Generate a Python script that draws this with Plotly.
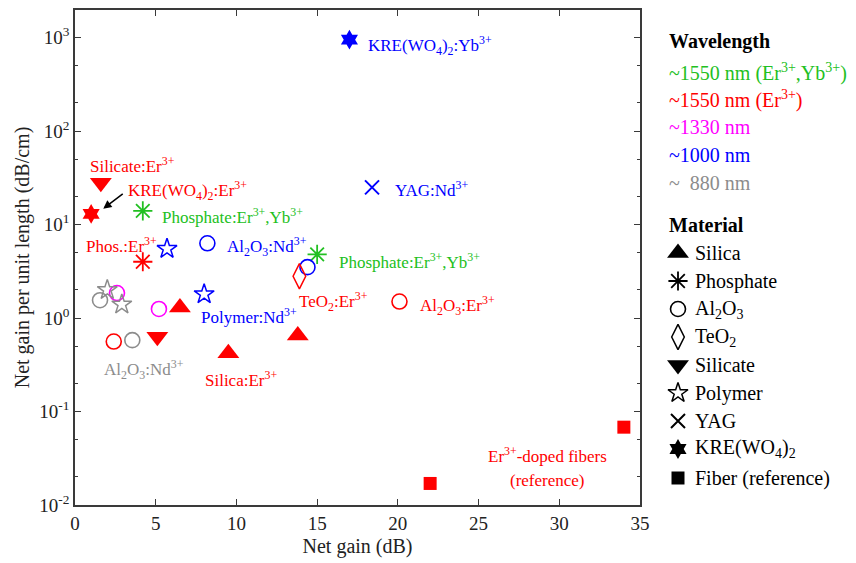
import plotly.graph_objects as go

# ---- data: net gain (dB) vs. net gain per unit length (dB/cm) ----
silica_er_gain = [6.5, 9.5, 13.8]
silica_er_gpl = [1.3, 0.42, 0.65]

phosphate_eryb_gain = [4.2, 15.0]
phosphate_eryb_gpl = [14.0, 4.8]
phosphate_er_gain = [4.2]
phosphate_er_gpl = [4.0]

al2o3_er_gain = [2.4, 20.1]
al2o3_er_gpl = [0.56, 1.5]
al2o3_1330_gain = [2.6, 5.2]
al2o3_1330_gpl = [1.85, 1.25]
al2o3_1000_gain = [8.2, 14.4]
al2o3_1000_gpl = [6.3, 3.5]
al2o3_880_gain = [1.55, 3.55]
al2o3_880_gpl = [1.55, 0.58]

teo2_er_gain = [13.9]
teo2_er_gpl = [2.8]

silicate_er_gain = [1.6, 5.1]
silicate_er_gpl = [28.0, 0.63]

polymer_1000_gain = [5.7, 8.0]
polymer_1000_gpl = [5.5, 1.8]
polymer_880_gain = [2.0, 2.9]
polymer_880_gpl = [2.0, 1.4]

yag_1000_gain = [18.4]
yag_1000_gpl = [25.0]

kre_er_gain = [1.0]
kre_er_gpl = [13.0]
kre_yb_gain = [17.0]
kre_yb_gpl = [950.0]

fiber_er_gain = [22.0, 34.0]
fiber_er_gpl = [0.017, 0.068]

x_ticks = [0, 5, 10, 15, 20, 25, 30, 35]
y_tick_exps = [-2, -1, 0, 1, 2, 3]

wavelength_labels = ["~1550 nm (Er<sup>3+</sup>,Yb<sup>3+</sup>)", "~1550 nm (Er<sup>3+</sup>)",
                     "~1330 nm", "~1000 nm", "~  880 nm"]
material_labels = ["Silica", "Phosphate", "Al<sub>2</sub>O<sub>3</sub>", "TeO<sub>2</sub>",
                   "Silicate", "Polymer", "YAG", "KRE(WO<sub>4</sub>)<sub>2</sub>", "Fiber (reference)"]

# ---- styling ----
GREEN = "#22C022"
RED = "#FF0000"
MAGENTA = "#FF00FF"
BLUE = "#0000FF"
GRAY = "#8C8C8C"
FONT = "Liberation Serif, Times New Roman, serif"
W, H = 856, 563
PL, PR, PT, PB = 75, 640, 10, 505  # plot box in pixels
X_RANGE = [0, 35]
Y_RANGE = [-2, 3.295]
PAPER_W = W - PL  # paper spans from the left margin to the right edge
LABEL_SIZE = 17
LEGEND_SIZE = 20

# marker styles: (symbol, size, filled, line width)
SILICA = ("triangle-up", 19, True, 0)
PHOSPHATE = ("asterisk-open", 16, False, 1.8)
AL2O3 = ("circle-open", 15, False, 1.6)
TEO2 = ("diamond-tall-open", 18, False, 1.5)
SILICATE = ("triangle-down", 19, True, 0)
POLYMER = ("star-open", 15, False, 1.5)
YAG = ("x-thin-open", 14, False, 2)
KRE = ("hexagram", 15, True, 0)
FIBER = ("square", 13, True, 0)

fig = go.Figure()


def marker_style(style, color):
    symbol, size, filled, lw = style
    if filled:
        return dict(symbol=symbol, size=size, color=color, line=dict(width=0))
    return dict(symbol=symbol, size=size, color=color, line=dict(color=color, width=lw))


def add(xs, ys, style, color):
    fig.add_trace(go.Scatter(x=xs, y=ys, mode="markers", marker=marker_style(style, color),
                             showlegend=False, hoverinfo="x+y"))


add(silica_er_gain, silica_er_gpl, SILICA, RED)
add(phosphate_eryb_gain, phosphate_eryb_gpl, PHOSPHATE, GREEN)
add(phosphate_er_gain, phosphate_er_gpl, PHOSPHATE, RED)
add(al2o3_er_gain, al2o3_er_gpl, AL2O3, RED)
add(al2o3_1330_gain, al2o3_1330_gpl, AL2O3, MAGENTA)
add(al2o3_1000_gain, al2o3_1000_gpl, AL2O3, BLUE)
add(al2o3_880_gain, al2o3_880_gpl, AL2O3, GRAY)
add(teo2_er_gain, teo2_er_gpl, TEO2, RED)
add(silicate_er_gain, silicate_er_gpl, SILICATE, RED)
add(polymer_1000_gain, polymer_1000_gpl, POLYMER, BLUE)
add(polymer_880_gain, polymer_880_gpl, POLYMER, GRAY)
add(yag_1000_gain, yag_1000_gpl, YAG, BLUE)
add(kre_er_gain, kre_er_gpl, KRE, RED)
add(kre_yb_gain, kre_yb_gpl, KRE, BLUE)
add(fiber_er_gain, fiber_er_gpl, FIBER, RED)

# ---- in-plot labels (anchored at data coordinates; y in log10 units) ----
labels = [
    ("KRE(WO<sub>4</sub>)<sub>2</sub>:Yb<sup>3+</sup>", 18.0, 2.91, "left", BLUE),
    ("YAG:Nd<sup>3+</sup>", 19.7, 1.38, "left", BLUE),
    ("Silicate:Er<sup>3+</sup>", 3.55, 1.64, "center", RED),
    ("KRE(WO<sub>4</sub>)<sub>2</sub>:Er<sup>3+</sup>", 3.15, 1.36, "left", RED),
    ("Phosphate:Er<sup>3+</sup>,Yb<sup>3+</sup>", 5.25, 1.09, "left", GREEN),
    ("Phos.:Er<sup>3+</sup>", 0.55, 0.78, "left", RED),
    ("Al<sub>2</sub>O<sub>3</sub>:Nd<sup>3+</sup>", 9.3, 0.76, "left", BLUE),
    ("Phosphate:Er<sup>3+</sup>,Yb<sup>3+</sup>", 16.2, 0.61, "left", GREEN),
    ("TeO<sub>2</sub>:Er<sup>3+</sup>", 13.75, 0.18, "left", RED),
    ("Al<sub>2</sub>O<sub>3</sub>:Er<sup>3+</sup>", 21.25, 0.13, "left", RED),
    ("Polymer:Nd<sup>3+</sup>", 7.7, 0.02, "left", BLUE),
    ("Al<sub>2</sub>O<sub>3</sub>:Nd<sup>3+</sup>", 1.65, -0.55, "left", GRAY),
    ("Silica:Er<sup>3+</sup>", 7.9, -0.65, "left", RED),
    ("Er<sup>3+</sup>-doped fibers", 29.25, -1.46, "center", RED),
    ("(reference)", 29.25, -1.74, "center", RED),
]
for text, x, y, anchor, color in labels:
    fig.add_annotation(x=x, y=y, xref="x", yref="y", text=text, showarrow=False,
                       xanchor=anchor, yanchor="middle",
                       font=dict(family=FONT, size=LABEL_SIZE, color=color))

# arrow pointing at the KRE(WO4)2:Er3+ point
fig.add_annotation(x=1.75, y=1.17, xref="x", yref="y", ax=21, ay=-16,
                   showarrow=True, arrowhead=2, arrowsize=1.1, arrowwidth=1.5,
                   arrowcolor="black", text="")


# ---- custom legend on the right ----
def px(x):
    return (x - PL) / PAPER_W


def py(y):
    return (PB - y) / (PB - PT)


LEG_X_TEXT = 667
fig.add_annotation(x=px(LEG_X_TEXT), y=py(42), xref="paper", yref="paper", text="<b>Wavelength</b>",
                   showarrow=False, xanchor="left", yanchor="middle",
                   font=dict(family=FONT, size=LEGEND_SIZE, color="black"))
wl_colors = [GREEN, RED, MAGENTA, BLUE, GRAY]
wl_rows = [72, 100, 127, 155, 183]
for text, c, yy in zip(wavelength_labels, wl_colors, wl_rows):
    fig.add_annotation(x=px(LEG_X_TEXT), y=py(yy), xref="paper", yref="paper", text=text,
                       showarrow=False, xanchor="left", yanchor="middle",
                       font=dict(family=FONT, size=LEGEND_SIZE, color=c))

fig.add_annotation(x=px(LEG_X_TEXT), y=py(225), xref="paper", yref="paper", text="<b>Material</b>",
                   showarrow=False, xanchor="left", yanchor="middle",
                   font=dict(family=FONT, size=LEGEND_SIZE, color="black"))
mat_rows = [253, 281, 309, 337, 365, 393, 421, 449, 478]
mat_styles = [SILICA, PHOSPHATE, AL2O3, TEO2, SILICATE, POLYMER, YAG, KRE, FIBER]
for style, yy, text in zip(mat_styles, mat_rows, material_labels):
    # legend glyphs live on a helper axis pair whose units are screen pixels
    fig.add_trace(go.Scatter(x=[678], y=[yy], xaxis="x2", yaxis="y2", mode="markers",
                             marker=marker_style(style, "black"), cliponaxis=False,
                             showlegend=False, hoverinfo="skip"))
    fig.add_annotation(x=px(693), y=py(yy), xref="paper", yref="paper", text=text,
                       showarrow=False, xanchor="left", yanchor="middle",
                       font=dict(family=FONT, size=LEGEND_SIZE, color="black"))

AX = "#3A3A3A"
LEG_LEFT = 650
fig.update_layout(
    width=W, height=H,
    margin=dict(l=PL, r=0, t=PT, b=H - PB, autoexpand=False),
    paper_bgcolor="white", plot_bgcolor="rgba(0,0,0,0)",
    font=dict(family=FONT, size=19, color="#222"),
    xaxis=dict(domain=[0, (PR - PL) / PAPER_W], range=X_RANGE, tickvals=x_ticks,
               ticks="inside", ticklen=6, tickwidth=1.2, tickcolor=AX,
               showline=True, linecolor=AX, linewidth=1.5, mirror="ticks",
               showgrid=False, zeroline=False,
               tickfont=dict(family=FONT, size=19, color="#222"),
               title=dict(text="Net gain (dB)", font=dict(family=FONT, size=20, color="#222"), standoff=6),
               automargin=False, anchor="y"),
    yaxis=dict(type="log", range=Y_RANGE,
               tickvals=[10 ** e for e in y_tick_exps],
               ticktext=["10<sup>%d</sup>" % e for e in y_tick_exps],
               ticks="inside", ticklen=6, tickwidth=1.2, tickcolor=AX,
               minor=dict(ticks="inside", ticklen=3, tickcolor=AX, showgrid=False),
               showline=True, linecolor=AX, linewidth=1.5, mirror="ticks",
               showgrid=False, zeroline=False,
               tickfont=dict(family=FONT, size=19, color="#222"),
               title=dict(text="Net gain per unit length (dB/cm)",
                          font=dict(family=FONT, size=20, color="#222"), standoff=4),
               automargin=False, anchor="x"),
    xaxis2=dict(domain=[(LEG_LEFT - PL) / PAPER_W, 1], range=[LEG_LEFT, W], visible=False,
                anchor="y2", fixedrange=True),
    yaxis2=dict(domain=[0, 1], range=[PB, PT], visible=False, anchor="x2", fixedrange=True),
)

fig.write_html("out.html")
